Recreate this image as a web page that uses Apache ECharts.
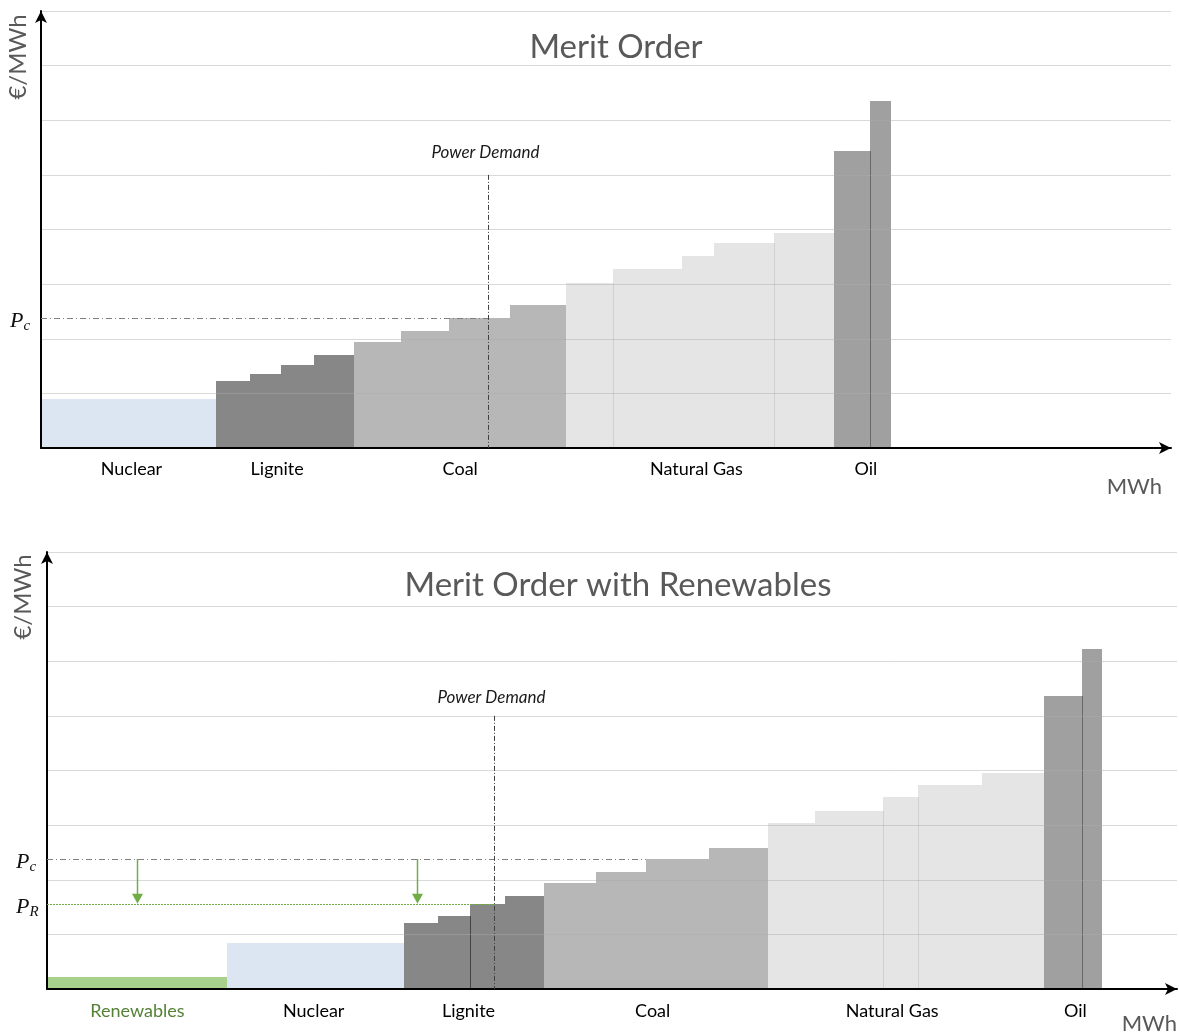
<!DOCTYPE html>
<html>
<head>
<meta charset="utf-8">
<title>Merit Order</title>
<script src="https://cdn.jsdelivr.net/npm/echarts@6/dist/echarts.min.js"></script>
<style>
  html, body { margin: 0; padding: 0; background: #ffffff; }
  #chart { width: 1179px; height: 1035px; }
</style>
</head>
<body>
<div id="chart"></div>
<script>
// Fuel types, in merit-order sequence
const fuelNames = ['Renewables', 'Nuclear', 'Lignite', 'Coal', 'Natural Gas', 'Oil'];

// Merit order without renewables: one entry per generating unit (capacity in GW, cost in €/MWh)
const baseFuel     = [1, 2, 2, 2, 2, 3, 3, 3, 3, 4, 4, 4, 4, 4, 5, 5];
const baseCapacity = [15.5, 3.0, 2.7, 3.0, 3.5, 4.2, 4.2, 5.4, 5.0, 4.1, 6.1, 2.9, 5.3, 5.3, 3.2, 1.8];
const basePrice    = [8.9, 12.3, 13.6, 15.2, 17.0, 19.4, 21.4, 23.8, 26.1, 30.2, 32.7, 35.1, 37.5, 39.3, 54.3, 63.6];
const baseSeams    = [10, 13, 15];          // units whose left edge shows a seam
const baseLabelFuel = [1, 2, 3, 4, 5];
const baseLabelAt   = [8.0, 20.9, 37.1, 58.0, 73.0];   // label anchors on the MWh axis

// Merit order with renewables in front
const renFuel      = [0, 1, 2, 2, 2, 2, 3, 3, 3, 3, 4, 4, 4, 4, 4, 5, 5];
const renCapacity  = [15.9, 15.7, 3.0, 2.8, 3.1, 3.5, 4.6, 4.4, 5.6, 5.2, 4.2, 6.0, 3.1, 5.6, 5.5, 3.4, 1.8];
const renPrice     = [2.2, 8.5, 12.1, 13.4, 15.6, 17.1, 19.4, 21.5, 23.8, 25.8, 30.3, 32.5, 35.2, 37.4, 39.5, 53.7, 62.3];
const renSeams     = [4, 12, 13, 16];
const renLabelFuel = [0, 1, 2, 3, 4, 5];
const renLabelAt   = [8.0, 23.6, 37.3, 53.6, 74.8, 91.0];

const demand      = 39.6;   // power demand on the MWh axis
const priceConv   = 23.8;   // clearing price without renewables (Pc)
const priceRen    = 15.6;   // clearing price with renewables (PR)
const shiftMarks  = [8.0, 32.7];   // where the price-drop arrows are drawn
const demandTop   = 50;     // height of the demand marker
const priceMax    = 80;
const priceStep   = 10;
const volumeMax   = 100;

// ---- styling ----
const FONT = 'Lato, "Open Sans", "Noto Sans", sans-serif';
const MATH_FONT = '"Liberation Serif", "DejaVu Serif", serif';
const fuelColors = ['#a9d18e', '#dce6f2', '#878787', '#b7b7b7', '#e5e5e5', '#a0a0a0'];
const seamShade  = [0, 0, 0.5, 0.3, 0.09, 0.35];
const labelColors = ['#548235', '#000000', '#000000', '#000000', '#000000', '#000000'];
const GREEN = '#70ad47';

// cumulative supply blocks: [start, end, price, fuel, seam, previous price]
function buildUnits(fuel, cap, price, seams) {
  let x = 0;
  return cap.map((c, i) => {
    const item = [x, x + c, price[i], fuel[i], seams.includes(i) ? 1 : 0, i > 0 ? price[i - 1] : 0];
    x += c;
    return item;
  });
}

const baseUnits = buildUnits(baseFuel, baseCapacity, basePrice, baseSeams);
const renUnits  = buildUnits(renFuel, renCapacity, renPrice, renSeams);
const renPcEnd  = renUnits.find(u => u[2] === priceConv)[0];

const crisp = v => Math.round(v) + 0.5;

function blockSeries(units, idx) {
  return {
    type: 'custom', xAxisIndex: idx, yAxisIndex: idx, z: 2, silent: true,
    data: units,
    renderItem: (params, api) => {
      const x0 = api.value(0), x1 = api.value(1), p = api.value(2);
      const f = api.value(3), seam = api.value(4), prev = api.value(5);
      const tl = api.coord([x0, p]), br = api.coord([x1, 0]);
      const l = Math.round(tl[0]), r = Math.round(br[0]);
      const t = Math.round(tl[1]), b = Math.round(br[1]);
      const children = [{
        type: 'rect', shape: { x: l, y: t, width: r - l, height: b - t },
        style: { fill: fuelColors[f] }
      }];
      if (seam) {
        const st = Math.round(api.coord([x0, Math.min(prev, p)])[1]);
        children.push({
          type: 'rect', shape: { x: l, y: st, width: 1, height: b - st },
          style: { fill: 'rgba(0,0,0,' + seamShade[f] + ')' }
        });
      }
      return { type: 'group', children };
    }
  };
}

function labelSeries(at, fuel, idx, drop) {
  return {
    type: 'custom', xAxisIndex: idx, yAxisIndex: idx, z: 5, silent: true,
    data: at.map((x, i) => [x, fuel[i]]),
    renderItem: (params, api) => {
      const pt = api.coord([api.value(0), 0]);
      const f = api.value(1);
      return {
        type: 'text', x: pt[0], y: pt[1] + drop,
        style: {
          text: fuelNames[f], align: 'center', verticalAlign: 'middle',
          font: '18px ' + FONT, fill: labelColors[f]
        }
      };
    }
  };
}

function priceLabel(pt, sub) {
  return {
    type: 'text', x: pt[0] - 31, y: pt[1] + 3,
    style: {
      text: '{p|P}{s|' + sub + '}', align: 'left', verticalAlign: 'middle',
      rich: {
        p: { font: 'italic 22px ' + MATH_FONT, fill: '#111111', lineHeight: 30, verticalAlign: 'middle' },
        s: { font: 'italic 15px ' + MATH_FONT, fill: '#111111', lineHeight: 30, verticalAlign: 'bottom', padding: [0, 0, 2, 0] }
      }
    }
  };
}

function demandElements(api, lift) {
  const top = api.coord([demand, demandTop]), bot = api.coord([demand, 0]);
  return [
    {
      type: 'line', shape: { x1: crisp(top[0]), y1: top[1], x2: crisp(bot[0]), y2: bot[1] },
      style: { stroke: '#404040', lineWidth: 1, lineDash: [5, 2, 1, 2] }
    },
    {
      type: 'text', x: top[0] - 3, y: top[1] - lift,
      style: {
        text: 'Power Demand', align: 'center', verticalAlign: 'middle',
        font: 'italic 17px ' + FONT, fill: '#1a1a1a'
      }
    }
  ];
}

function hLine(api, x0, x1, y, stroke, dash) {
  const a = api.coord([x0, y]), b = api.coord([x1, y]);
  return {
    type: 'line', shape: { x1: a[0], y1: crisp(a[1]), x2: b[0], y2: crisp(b[1]) },
    style: { stroke, lineWidth: 1, lineDash: dash }
  };
}

function annotationSeries(idx, withRenewables) {
  return {
    type: 'custom', xAxisIndex: idx, yAxisIndex: idx, z: 6, silent: true,
    data: [[0, 0]],
    renderItem: (params, api) => {
      const children = [];
      const pcEnd = withRenewables ? renPcEnd : demand;
      children.push(hLine(api, 0, pcEnd, priceConv, '#7f7f7f', [6, 3, 1, 3]));
      children.push(priceLabel(api.coord([0, priceConv]), 'c'));
      if (withRenewables) {
        children.push(hLine(api, 0, demand, priceRen, GREEN, [2, 1]));
        children.push(priceLabel(api.coord([0, priceRen]), 'R'));
        shiftMarks.forEach(m => {
          const a = api.coord([m, priceConv]), b = api.coord([m, priceRen]);
          const x = crisp(a[0]);
          children.push({
            type: 'line', shape: { x1: x, y1: a[1], x2: x, y2: b[1] - 9 },
            style: { stroke: GREEN, lineWidth: 1.5 }
          });
          children.push({
            type: 'polygon', shape: { points: [[x - 5.5, b[1] - 10], [x + 5.5, b[1] - 10], [x, b[1]]] },
            style: { fill: GREEN }
          });
        });
      }
      return { type: 'group', children: children.concat(demandElements(api, withRenewables ? 18 : 22)) };
    }
  };
}

function xAxisOf(idx, namePad) {
  return {
    type: 'value', gridIndex: idx, min: 0, max: volumeMax, z: 3,
    name: 'MWh', nameLocation: 'end', nameGap: 0,
    nameTextStyle: {
      fontFamily: FONT, fontSize: 22, color: '#595959', lineHeight: 22,
      align: 'right', verticalAlign: 'top', padding: namePad
    },
    axisLine: { show: true, symbol: ['none', 'arrow'], symbolSize: [9, 12], lineStyle: { color: '#000000', width: 2 } },
    axisTick: { show: false }, axisLabel: { show: false }, splitLine: { show: false }
  };
}
function yAxisOf(idx) {
  return {
    type: 'value', gridIndex: idx, min: 0, max: priceMax, interval: priceStep, z: 3,
    axisLine: { show: true, symbol: ['none', 'arrow'], symbolSize: [9, 12], lineStyle: { color: '#000000', width: 2 } },
    axisTick: { show: false }, axisLabel: { show: false },
    splitLine: { show: true, lineStyle: { color: 'rgba(170,170,170,0.45)', width: 1 } }
  };
}

const titleStyle = { fontFamily: FONT, fontSize: 33, fontWeight: 'normal', color: '#595959' };
const axisNameStyle = { text: '€/MWh', align: 'center', verticalAlign: 'middle', font: '24px ' + FONT, fill: '#595959' };

const chart = echarts.init(document.getElementById('chart'));
chart.setOption({
  animation: false,
  backgroundColor: '#ffffff',
  title: [
    { text: 'Merit Order', left: 611, top: 26, textAlign: 'center', textStyle: titleStyle },
    { text: 'Merit Order with Renewables', left: 613, top: 564, textAlign: 'center', textStyle: titleStyle }
  ],
  graphic: [
    { type: 'text', x: 18, y: 57, rotation: Math.PI / 2, style: axisNameStyle },
    { type: 'text', x: 23, y: 597, rotation: Math.PI / 2, style: axisNameStyle }
  ],
  grid: [
    { left: 41, right: 8, top: 11, height: 437 },
    { left: 47, right: 2, top: 552, height: 439 }
  ],
  xAxis: [xAxisOf(0, [28, 9, 0, 0]), xAxisOf(1, [24, 0, 0, 0])],
  yAxis: [yAxisOf(0), yAxisOf(1)],
  series: [
    blockSeries(baseUnits, 0),
    labelSeries(baseLabelAt, baseLabelFuel, 0, 21),
    annotationSeries(0, false),
    blockSeries(renUnits, 1),
    labelSeries(renLabelAt, renLabelFuel, 1, 22),
    annotationSeries(1, true)
  ]
});
</script>
</body>
</html>
